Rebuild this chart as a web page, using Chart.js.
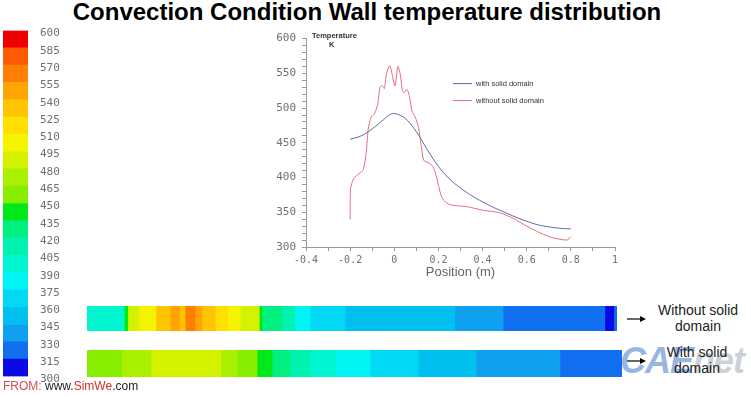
<!DOCTYPE html>
<html>
<head>
<meta charset="utf-8">
<script src="https://cdn.jsdelivr.net/npm/chart.js@4.4.1/dist/chart.umd.min.js"></script>
<style>
  body { margin:0; background:#fff; width:751px; height:397px; position:relative; overflow:hidden; font-family:"Liberation Sans", Arial, sans-serif; }
  .abs { position:absolute; }
  canvas { position:absolute; }
  .side { font-size:14px; line-height:16px; color:#222; text-align:center; width:90px; }
</style>
</head>
<body>
<div class="abs" style="left:0;top:0;width:734px;text-align:center;font-weight:bold;font-size:24px;line-height:24px;color:#000;">Convection Condition Wall temperature distribution</div>

<canvas id="scaleBar" width="75" height="383" style="left:0;top:12px"></canvas>
<canvas id="plot" width="380" height="254" style="left:250px;top:26px"></canvas>
<div class="abs" style="left:312px;top:31px;font-size:7.5px;font-weight:bold;color:#333;line-height:9px;">Temperature<br><span style="padding-left:17px">K</span></div>

<div class="abs" style="left:620px;top:340px;font-size:36px;font-weight:bold;font-style:italic;letter-spacing:-1px;"><span style="color:rgba(60,120,200,0.55)">CAE</span><span style="color:rgba(140,150,165,0.45)">net</span></div>

<canvas id="stripWithout" width="530" height="25" style="left:87px;top:306px"></canvas>
<canvas id="stripWith" width="535" height="27" style="left:87px;top:350px"></canvas>

<svg class="abs" style="left:624px;top:312px" width="26" height="56">
  <line x1="3" y1="7" x2="18" y2="7" stroke="#000" stroke-width="1.2"/>
  <polygon points="22,7 16,4 16,10" fill="#000"/>
  <line x1="3" y1="49" x2="18" y2="49" stroke="#000" stroke-width="1.2"/>
  <polygon points="22,49 16,46 16,52" fill="#000"/>
</svg>
<div class="abs side" style="left:653px;top:302px">Without solid<br>domain</div>
<div class="abs side" style="left:652px;top:344px">With solid<br>domain</div>

<div class="abs" style="left:3px;top:379px;font-size:12px;line-height:14px;color:#222;"><span style="color:#d05050">FROM:</span> www.<span style="color:#d03030">SimWe</span>.com</div>

<script>
// colour scale (K)
const scaleEdges = [300, 315, 330, 345, 360, 375, 390, 405, 420, 435, 450, 465, 480, 495, 510, 525, 540, 555, 570, 585, 600];
const scaleColors = ['#0a0ae6', '#1070f0', '#10a0f0', '#00c0f0', '#00d8f4', '#00f4f4', '#00f6d0', '#00f2b0', '#00f080', '#00e81a',
                     '#88ee00', '#a8f000', '#d4f200', '#f4f400', '#ffe000', '#ffc400', '#ffa400', '#ff8000', '#ff5a00', '#ee0000'];

// wall temperature curves
const seriesNames = ['with solid domain', 'without solid domain'];
const positionWith = [-0.2, -0.15, -0.1, -0.05, -0.01, 0.03, 0.06, 0.1, 0.15, 0.2, 0.25, 0.3, 0.35, 0.4, 0.45, 0.5, 0.55, 0.6, 0.65, 0.7, 0.75, 0.8];
const tempWith = [455, 460, 470, 483, 492, 489, 482, 466, 440, 416, 398, 385, 374, 365, 357, 350, 343, 337, 332, 329, 327, 326];
const positionWithout = [-0.2, -0.198, -0.185, -0.17, -0.15, -0.14, -0.127, -0.118, -0.105, -0.09, -0.075, -0.065, -0.055, -0.045, -0.035, -0.02,
                         0.003, 0.016, 0.027, 0.037, 0.045, 0.057, 0.068, 0.08, 0.095, 0.11, 0.122, 0.133, 0.148, 0.17, 0.185, 0.2, 0.215,
                         0.238, 0.268, 0.33, 0.4, 0.48, 0.54, 0.6, 0.7, 0.782, 0.8];
const tempWithout = [340, 384, 398, 403, 408, 412, 436, 470, 487, 492, 505, 530, 532, 528, 550, 561,
                     532, 560, 549, 525, 522, 527, 518, 496, 487, 472, 446, 425, 422, 418, 408, 389, 372,
                     363, 360, 358, 353, 349, 341, 330, 315, 310, 315];

// contour strips: segment edges (m) and temperatures (K)
const stripWithoutEdges = [-0.2, -0.13, -0.123, -0.102, -0.07, -0.043, -0.025, -0.015, 0.004, 0.017, 0.042, 0.066, 0.089, 0.125, 0.13,
                           0.168, 0.192, 0.221, 0.287, 0.494, 0.585, 0.777, 0.794, 0.8];
const stripWithoutTemps = [395, 440, 485, 500, 530, 545, 530, 560, 545, 530, 515, 500, 485, 440, 425, 410, 380, 365, 355, 340, 325, 305, 325];
const stripWithEdges = [-0.2, -0.135, -0.08, 0.05, 0.08, 0.118, 0.146, 0.179, 0.217, 0.264, 0.329, 0.419, 0.527, 0.684, 0.8];
const stripWithTemps = [460, 470, 485, 470, 460, 440, 428, 415, 400, 382, 368, 355, 340, 325];

const mono = '"DejaVu Sans Mono", monospace';
const sans = '"Liberation Sans", Arial, sans-serif';

function colorFor(t) {
  let i = 0;
  while (i < scaleColors.length - 1 && t >= scaleEdges[i + 1]) i++;
  return scaleColors[i];
}

// colour bar
new Chart(document.getElementById('scaleBar'), {
  type: 'bar',
  data: {
    labels: ['K'],
    datasets: scaleColors.map((c, i) => ({
      data: [[scaleEdges[i], scaleEdges[i + 1]]],
      backgroundColor: c, borderWidth: 0, barPercentage: 1, categoryPercentage: 1, grouped: false
    }))
  },
  options: {
    responsive: false, animation: false,
    layout: { padding: { top: 0, bottom: 0, left: 3, right: 0 } },
    plugins: { legend: { display: false }, tooltip: { enabled: false } },
    scales: {
      x: { display: false },
      y: {
        position: 'right', min: 300, max: 600,
        afterFit: s => { s.width = 47; },
        ticks: { stepSize: 15, autoSkip: false, padding: 12, labelOffset: 3, color: '#707070', font: { family: mono, size: 11 } },
        grid: { display: false, drawTicks: false },
        border: { display: false }
      }
    }
  }
});

// legend drawn inside the plot area
const inlineLegend = {
  id: 'inlineLegend',
  afterDraw(chart) {
    const { ctx, chartArea } = chart;
    const x0 = chartArea.left + 147, y0 = chartArea.top + 45;
    ctx.save();
    ctx.font = '7.5px ' + sans;
    ctx.textBaseline = 'middle';
    chart.data.datasets.forEach((ds, i) => {
      const y = y0 + i * 17;
      ctx.strokeStyle = ds.borderColor;
      ctx.lineWidth = 1;
      ctx.beginPath(); ctx.moveTo(x0, y); ctx.lineTo(x0 + 19, y); ctx.stroke();
      ctx.fillStyle = '#333';
      ctx.fillText(ds.label, x0 + 23, y);
    });
    ctx.restore();
  }
};

new Chart(document.getElementById('plot'), {
  type: 'line',
  data: {
    datasets: [
      { label: seriesNames[0], data: positionWith.map((x, i) => ({ x, y: tempWith[i] })),
        borderColor: '#6464a8', borderWidth: 1, pointRadius: 0, tension: 0.4, fill: false },
      { label: seriesNames[1], data: positionWithout.map((x, i) => ({ x, y: tempWithout[i] })),
        borderColor: '#e0707e', borderWidth: 1, pointRadius: 0, tension: 0.25, fill: false }
    ]
  },
  options: {
    responsive: false, animation: false,
    layout: { padding: { top: 11, right: 15, left: 0, bottom: 0 } },
    plugins: { legend: { display: false }, tooltip: { enabled: false } },
    scales: {
      x: {
        type: 'linear', min: -0.4, max: 1,
        afterFit: s => { s.height = 33; },
        ticks: {
          stepSize: 0.1, autoSkip: false, maxRotation: 0, padding: 3, color: '#707070', font: { family: mono, size: 10 },
          callback: v => { const k = Math.round(v * 10); return k % 2 === 0 ? String(k / 10) : ''; }
        },
        grid: { drawOnChartArea: false, color: '#999', tickLength: 4 },
        border: { color: '#999' },
        title: { display: true, text: 'Position (m)', color: '#666', font: { family: sans, size: 13 }, padding: { top: 0, bottom: 0 } }
      },
      y: {
        min: 300, max: 600,
        afterFit: s => { s.width = 56; },
        ticks: {
          stepSize: 10, autoSkip: false, padding: 6, color: '#707070', font: { family: mono, size: 11 },
          callback: v => (Math.round(v) % 50 === 0 ? String(Math.round(v)) : '')
        },
        grid: { drawOnChartArea: false, color: '#999', tickLength: 4 },
        border: { color: '#999' }
      }
    }
  },
  plugins: [inlineLegend]
});

// contour strips
function drawStrip(id, edges, temps) {
  new Chart(document.getElementById(id), {
    type: 'bar',
    data: {
      labels: ['wall'],
      datasets: temps.map((t, i) => ({
        data: [[edges[i], edges[i + 1]]],
        backgroundColor: colorFor(t), borderWidth: 0, barPercentage: 1, categoryPercentage: 1, grouped: false
      }))
    },
    options: {
      indexAxis: 'y', responsive: false, animation: false,
      layout: { padding: 0 },
      plugins: { legend: { display: false }, tooltip: { enabled: false } },
      scales: {
        x: { type: 'linear', min: -0.2, max: 0.8, display: false },
        y: { display: false }
      }
    }
  });
}
drawStrip('stripWithout', stripWithoutEdges, stripWithoutTemps);
drawStrip('stripWith', stripWithEdges, stripWithTemps);
</script>
</body>
</html>
